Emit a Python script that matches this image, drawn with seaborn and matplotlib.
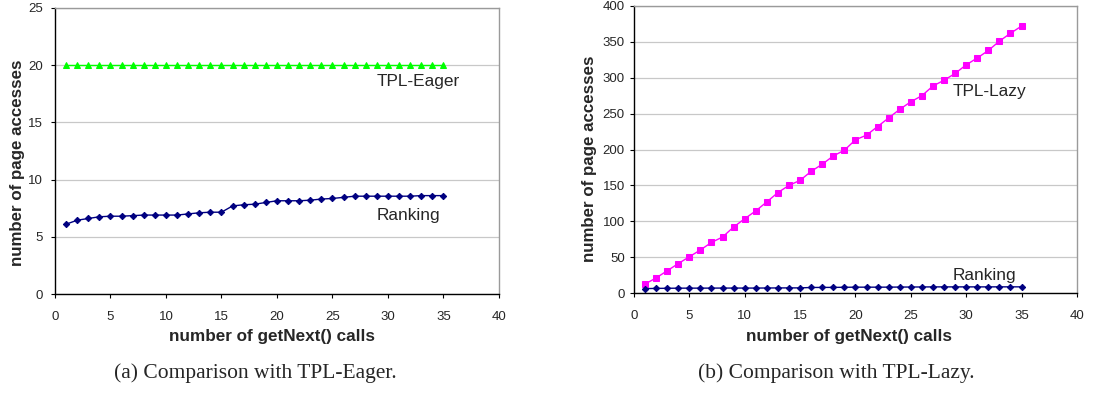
import numpy as np
import pandas as pd
import matplotlib
matplotlib.use("Agg")
import matplotlib.pyplot as plt
import seaborn as sns

calls = list(range(1, 36))
ranking = [6.1, 6.45, 6.6, 6.75, 6.8, 6.8, 6.85, 6.9, 6.9, 6.9, 6.9, 7.0, 7.1, 7.15, 7.15,
           7.7, 7.8, 7.85, 8.0, 8.15, 8.15, 8.15, 8.2, 8.3, 8.35, 8.45, 8.55, 8.55, 8.55,
           8.55, 8.55, 8.55, 8.6, 8.6, 8.6]
tpl_eager = [20] * 35
tpl_lazy = [12.5, 21, 31, 41, 50.5, 60, 70.5, 78, 92, 103.5, 114.5, 127, 140, 150, 157,
            169.5, 179.5, 191, 199, 213.5, 220, 232, 244, 256, 266.5, 275, 288.5, 296.5,
            306, 318, 327.5, 338, 351, 362, 372]

sns.set_style("white")
plt.rcParams['font.family'] = ['Liberation Sans', 'DejaVu Sans']

fig = plt.figure(figsize=(10.93, 3.94), dpi=100)
ax1 = fig.add_axes([0.0503, 0.2538, 0.4062, 0.7259])
ax2 = fig.add_axes([0.5800, 0.2563, 0.4053, 0.7285])

df = pd.DataFrame({"calls": calls, "ranking": ranking, "eager": tpl_eager, "lazy": tpl_lazy})

NAVY = "#000080"
sns.lineplot(data=df, x="calls", y="eager", ax=ax1, color="#00FF00", marker="^",
             markersize=4.5, markeredgecolor="#00FF00", linewidth=1.0)
sns.lineplot(data=df, x="calls", y="ranking", ax=ax1, color=NAVY, marker="D",
             markersize=3.2, markeredgecolor=NAVY, linewidth=1.0)

sns.lineplot(data=df, x="calls", y="lazy", ax=ax2, color="#FF00FF", marker="s",
             markersize=4.2, markeredgecolor="#FF00FF", linewidth=1.0)
sns.lineplot(data=df, x="calls", y="ranking", ax=ax2, color=NAVY, marker="D",
             markersize=3.2, markeredgecolor=NAVY, linewidth=1.0)

for ax, ymax, ystep, ypad in [(ax1, 25, 5, 5.5), (ax2, 400, 50, 3.5)]:
    ax.set_xlim(0, 40)
    ax.set_ylim(0, ymax)
    ax.set_xticks(range(0, 41, 5))
    ax.set_yticks(np.arange(0, ymax + 1, ystep))
    ax.yaxis.grid(True, color="#c8c8c8", linewidth=0.9)
    ax.xaxis.grid(False)
    ax.set_axisbelow(True)
    for s in ["left", "bottom"]:
        ax.spines[s].set_color("black")
        ax.spines[s].set_linewidth(1.0)
    for s in ["top", "right"]:
        ax.spines[s].set_color("#9a9a9a")
        ax.spines[s].set_linewidth(1.0)
    ax.tick_params(axis="both", which="major", labelsize=9.5, length=3, width=0.8,
                   color="black", direction="out", bottom=True, left=True)
    ax.tick_params(axis="x", pad=9)
    ax.tick_params(axis="y", pad=ypad)
    ax.set_xlabel("number of getNext() calls", fontsize=12.3, fontweight="bold")
    ax.set_ylabel("number of page accesses", fontsize=12.2, fontweight="bold")

ax1.xaxis.set_label_coords(0.489, -0.122)
ax1.yaxis.set_label_coords(-0.0676, 0.458)
ax2.xaxis.set_label_coords(0.485, -0.125)
ax2.yaxis.set_label_coords(-0.0835, 0.467)

ax1.text(29.0, 18.6, "TPL-Eager", fontsize=12.4, va="center", ha="left")
ax1.text(29.0, 6.9, "Ranking", fontsize=12.4, va="center", ha="left")
ax2.text(28.8, 281, "TPL-Lazy", fontsize=12.4, va="center", ha="left")
ax2.text(28.8, 25, "Ranking", fontsize=12.4, va="center", ha="left")

fig.text(255 / 1093, 1 - 373 / 394, "(a) Comparison with TPL-Eager.", fontsize=15.5,
         family=["Liberation Serif", "DejaVu Serif"], ha="center", va="center")
fig.text(836 / 1093, 1 - 373 / 394, "(b) Comparison with TPL-Lazy.", fontsize=15.5,
         family=["Liberation Serif", "DejaVu Serif"], ha="center", va="center")

fig.savefig("out.png", dpi=100, facecolor="white")
